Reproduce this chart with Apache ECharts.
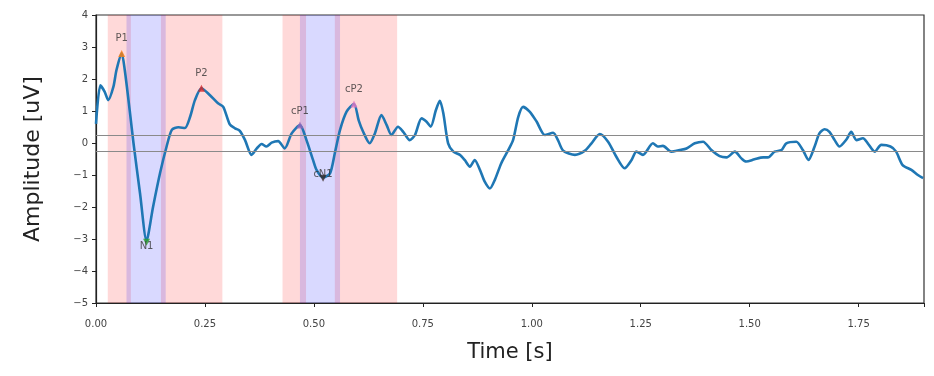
<!DOCTYPE html>
<html>
<head>
<meta charset="utf-8">
<script src="https://cdn.jsdelivr.net/npm/echarts@6/dist/echarts.min.js"></script>
<style>html,body{margin:0;padding:0;background:#fff;}#c{width:934px;height:376px;}</style>
</head>
<body>
<div id="c"></div>
<script>
// ---- data ----
const times = [0.000,0.010,0.020,0.028,0.040,0.047,0.059,0.066,0.078,0.086,0.101,0.116,0.131,0.147,0.162,0.174,0.189,0.204,0.216,0.227,0.242,0.261,0.280,0.292,0.307,0.319,0.330,0.342,0.357,0.369,0.380,0.391,0.403,0.418,0.433,0.449,0.468,0.483,0.498,0.506,0.521,0.537,0.548,0.560,0.575,0.592,0.603,0.613,0.628,0.640,0.655,0.667,0.678,0.693,0.705,0.720,0.732,0.747,0.758,0.768,0.780,0.789,0.797,0.808,0.820,0.835,0.846,0.858,0.869,0.881,0.892,0.904,0.915,0.930,0.946,0.957,0.969,0.980,0.995,1.011,1.030,1.049,1.060,1.072,1.099,1.122,1.137,1.156,1.175,1.194,1.213,1.229,1.240,1.255,1.278,1.289,1.301,1.320,1.339,1.355,1.374,1.393,1.412,1.431,1.447,1.466,1.481,1.492,1.511,1.531,1.542,1.557,1.573,1.584,1.607,1.622,1.635,1.649,1.660,1.672,1.683,1.695,1.706,1.722,1.733,1.745,1.760,1.771,1.787,1.802,1.823,1.836,1.851,1.871,1.886,1.898];
const amplitude = [0.60,1.80,1.60,1.34,1.76,2.28,2.80,2.28,0.94,0.00,-1.57,-3.05,-1.99,-0.94,-0.11,0.41,0.49,0.47,0.82,1.34,1.71,1.50,1.24,1.13,0.58,0.46,0.38,0.09,-0.37,-0.17,-0.03,-0.11,0.01,0.06,-0.17,0.30,0.56,0.09,-0.53,-0.84,-1.08,-0.95,-0.32,0.41,0.98,1.22,0.70,0.35,-0.01,0.30,0.87,0.56,0.25,0.51,0.35,0.09,0.25,0.77,0.67,0.51,1.03,1.32,0.93,-0.01,-0.27,-0.37,-0.53,-0.74,-0.53,-0.84,-1.21,-1.42,-1.16,-0.63,-0.22,0.09,0.82,1.13,0.98,0.67,0.25,0.32,0.09,-0.24,-0.37,-0.24,-0.01,0.28,0.04,-0.43,-0.79,-0.53,-0.27,-0.37,-0.01,-0.11,-0.09,-0.27,-0.22,-0.17,-0.01,0.04,-0.22,-0.41,-0.45,-0.27,-0.48,-0.58,-0.51,-0.45,-0.45,-0.27,-0.22,-0.01,0.04,-0.22,-0.53,-0.11,0.30,0.43,0.35,0.09,-0.11,0.11,0.35,0.09,0.15,-0.01,-0.27,-0.06,-0.11,-0.27,-0.69,-0.84,-1.00,-1.10];

const peakNames = ['P1','N1','P2','cP1','cN1','cP2'];
const peakTimes = [0.059,0.116,0.242,0.468,0.521,0.592];
const peakValues = [2.80,-3.10,1.71,0.56,-1.10,1.22];

const positiveWindows = [[0.027,0.080],[0.149,0.290],[0.428,0.482],[0.548,0.691]];
const negativeWindows = [[0.070,0.160],[0.468,0.560]];

const thresholds = [0.25,-0.25];
const xTicks = [0,0.25,0.5,0.75,1.0,1.25,1.5,1.75];
const yTicks = [-5,-4,-3,-2,-1,0,1,2,3,4];

// ---- styles ----
const peakColors = ['#ff7f0e','#2ca02c','#d62728','#9467bd','#3a2a25','#e377c2'];
const peakIsNeg = [false,true,false,false,true,false];
const labelOffsets = [[0,-3],[0,4],[0,-3],[0,-2],[0,-4],[0,-3]];

const chart = echarts.init(document.getElementById('c'));
const FONT = 'DejaVu Sans';

chart.setOption({
  animation: false,
  backgroundColor: '#fff',
  grid: {left: 96, right: 10, top: 15, bottom: 73, show: true, borderColor: '#333', borderWidth: 1.2, containLabel: false},
  xAxis: {
    type: 'value', min: 0, max: 1.9, interval: 0.25,
    name: 'Time [s]', nameLocation: 'middle', nameGap: 39,
    nameTextStyle: {fontFamily: FONT, fontSize: 21, color: '#222'},
    axisLine: {show: true, onZero: false, lineStyle: {color: '#222', width: 1.2}},
    axisTick: {show: true, length: 4, inside: false, lineStyle: {color: '#222'}},
    axisLabel: {
      fontFamily: FONT, fontSize: 10, color: '#444', margin: 16,
      formatter: v => xTicks.some(t => Math.abs(t - v) < 1e-6) ? v.toFixed(2) : ''
    },
    splitLine: {show: false}
  },
  yAxis: {
    type: 'value', min: -5, max: 4, interval: 1,
    name: 'Amplitude [uV]', nameLocation: 'middle', nameGap: 52, nameRotate: 90,
    nameTextStyle: {fontFamily: FONT, fontSize: 22, color: '#222'},
    axisLine: {show: true, onZero: false, lineStyle: {color: '#222', width: 1.2}},
    axisTick: {show: true, length: 4, lineStyle: {color: '#222'}},
    axisLabel: {
      fontFamily: FONT, fontSize: 10, color: '#444', margin: 8,
      formatter: v => yTicks.includes(v) ? String(v).replace('-', '\u2212') : ''
    },
    splitLine: {show: false}
  },
  series: [
    {
      type: 'line', data: [], silent: true,
      markArea: {
        silent: true,
        itemStyle: {color: 'rgba(255,0,0,0.15)'},
        data: positiveWindows.map(w => [{xAxis: w[0]}, {xAxis: w[1]}])
      }
    },
    {
      type: 'line', data: [], silent: true,
      markArea: {
        silent: true,
        itemStyle: {color: 'rgba(0,0,255,0.15)'},
        data: negativeWindows.map(w => [{xAxis: w[0]}, {xAxis: w[1]}])
      }
    },
    {
      type: 'line', data: [], silent: true,
      markLine: {
        silent: true, symbol: 'none', label: {show: false},
        lineStyle: {color: '#8a8a8a', width: 1, type: 'solid'},
        data: thresholds.map(t => ({yAxis: t}))
      }
    },
    {
      type: 'line',
      data: times.map((t, i) => [t, amplitude[i]]),
      showSymbol: false, smooth: 0.25,
      lineStyle: {color: '#1f77b4', width: 2.6},
      z: 3
    },
    {
      type: 'scatter',
      z: 4,
      data: peakTimes.map((t, i) => ({
        value: [t, peakValues[i]],
        name: peakNames[i],
        symbol: 'triangle',
        symbolRotate: peakIsNeg[i] ? 180 : 0,
        itemStyle: {color: peakColors[i]},
        label: {
          show: true,
          formatter: peakNames[i],
          position: peakIsNeg[i] ? 'inside' : 'top',
          offset: labelOffsets[i],
          distance: 3,
          fontFamily: FONT, fontSize: 10, color: '#333'
        }
      })),
      symbolSize: 7
    }
  ]
});
</script>
</body>
</html>
